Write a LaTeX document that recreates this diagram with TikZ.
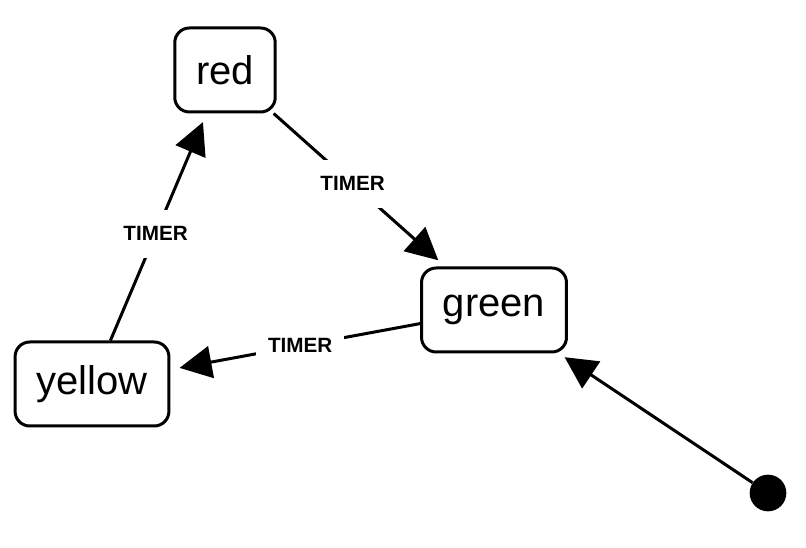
\documentclass[tikz,border=0pt]{standalone}
\usepackage{fontspec}
\setmainfont{Liberation Sans}
\usepackage{tikz}
\usetikzlibrary{arrows.meta}

\tikzset{
  state/.style={draw, line width=2.25pt, rounded corners=11pt, minimum height=63pt, inner xsep=16pt, font=\fontsize{30}{36}\selectfont},
  trans/.style={line width=2.25pt, -{Triangle[length=24pt,width=24pt]}, shorten >=7pt},
  timer/.style={fill=white, inner xsep=9pt, minimum height=36pt, font=\fontsize{15.5}{18}\selectfont\bfseries},
  startdot/.style={circle, fill, minimum size=27.5pt, inner sep=0pt}
}

\begin{document}
\begin{tikzpicture}[x=0.75pt,y=0.75pt,yscale=-1,xscale=1]
\useasboundingbox (0,0) rectangle (806,548);

% States
\node[state] (red) at (225,70) {red};
\node[state] (green) at (494,310) {green};
\node[state] (yellow) at (92,384) {yellow};
% Initial state
\node[startdot] (start) at (768,493) {};

% Transitions
\draw[trans] (red) -- node[timer, pos=0.46] {TIMER} (green);
\draw[trans] (green) -- node[timer, pos=0.48] {TIMER} (yellow);
\draw[trans] (yellow) -- node[timer, pos=0.47] {TIMER} (red);
\draw[trans, shorten >=5pt] (start) -- (green);
\end{tikzpicture}
\end{document}
